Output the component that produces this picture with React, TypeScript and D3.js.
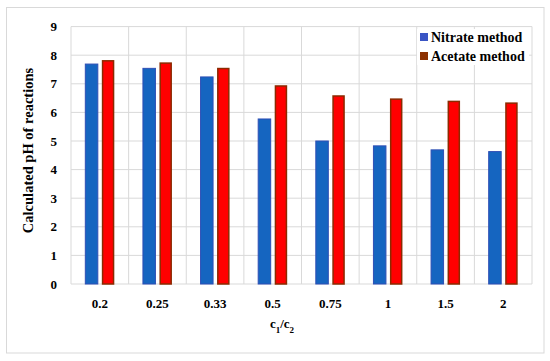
import React from "react";
import * as d3 from "d3";

const categories = ["0.2", "0.25", "0.33", "0.5", "0.75", "1", "1.5", "2"];
const nitrate = [7.69, 7.54, 7.24, 5.77, 5.0, 4.83, 4.69, 4.63];
const acetate = [7.83, 7.75, 7.56, 6.95, 6.6, 6.49, 6.41, 6.35];
const yTicks = [0, 1, 2, 3, 4, 5, 6, 7, 8, 9];
const seriesNames = ["Nitrate method", "Acetate method"];

const W = 550, H = 361;
const left = 71, right = 532, top = 26.6, bottom = 284;
const fs = (size: number) => ({ fontFamily: "Liberation Serif", fontWeight: "bold" as const, fontSize: size, fill: "#000" });

export default function App() {
  const x = d3.scaleBand<string>().domain(categories).range([left, right]);
  const y = d3.scaleLinear().domain([0, 9]).range([bottom, top]);
  const bw = 12.5;
  const gap = 4;
  const grid = "#d9d9d9";
  return (
    <svg width={W} height={H} style={{ position: "absolute", left: 0, top: 0 }}>
      <rect x={0} y={0} width={W} height={H} fill="#fff" />
      <rect x={6.5} y={7.5} width={537.5} height={345.5} fill="#fff" stroke="#d9d9d9" strokeWidth={1} />
      {yTicks.map((t) => (
        <line key={"h" + t} x1={left} x2={right} y1={y(t)} y2={y(t)} stroke={grid} strokeWidth={1} />
      ))}
      {categories.map((c) => (
        <line key={"v" + c} x1={x(c)!} x2={x(c)!} y1={top} y2={bottom} stroke={grid} strokeWidth={1} />
      ))}
      <line x1={right} x2={right} y1={top} y2={bottom} stroke={grid} strokeWidth={1} />
      {categories.map((c, i) => {
        const cx = x(c)! + x.bandwidth() / 2;
        return (
          <g key={"b" + c}>
            <rect x={cx - gap / 2 - bw} y={y(nitrate[i])} width={bw} height={y(0) - y(nitrate[i])} fill="#1565c0" stroke="#2f4fb5" strokeWidth={1} />
            <rect x={cx + gap / 2 + 0.75} y={y(acetate[i]) + 0.75} width={bw - 1.5} height={y(0) - y(acetate[i]) - 0.75} fill="#ff0000" stroke="#8b2a00" strokeWidth={1.5} />
          </g>
        );
      })}
      {yTicks.map((t) => (
        <text key={"yl" + t} x={57} y={y(t) + 4.5} textAnchor="end" style={fs(13)}>
          {t}
        </text>
      ))}
      {categories.map((c) => (
        <text key={"xl" + c} x={x(c)! + x.bandwidth() / 2} y={308} textAnchor="middle" style={fs(13)}>
          {c}
        </text>
      ))}
      <text x={282} y={328} textAnchor="middle" style={fs(13)}>
        c<tspan baselineShift="sub" style={{ fontSize: 9 }}>1</tspan>/c<tspan baselineShift="sub" style={{ fontSize: 9 }}>2</tspan>
      </text>
      <text transform={`translate(33,150.5) rotate(-90)`} textAnchor="middle" style={fs(14.5)}>
        Calculated pH of reactions
      </text>
      <rect x={417} y={29} width={112} height={36} fill="#fff" />
      {seriesNames.map((s, i) => (
        <g key={"lg" + s}>
          <rect x={420} y={33 + i * 19} width={8} height={8} fill={i === 0 ? "#3a55c4" : "#8b3000"} />
          <text x={431} y={41.5 + i * 19} style={fs(14)}>
            {s}
          </text>
        </g>
      ))}
    </svg>
  );
}
